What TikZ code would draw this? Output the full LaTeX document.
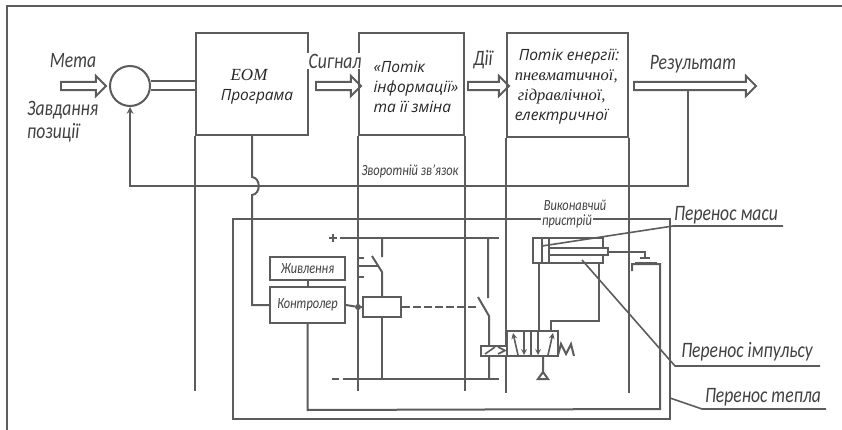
\documentclass[tikz,border=0pt]{standalone}
\usepackage{fontspec}
\setmainfont{Carlito}[FakeStretch=0.8]
\newfontfamily\blockfont{Open Sans}
\newfontfamily\oldfont{Liberation Serif}
\usetikzlibrary{shapes.arrows}
\definecolor{inkgray}{gray}{0.36}
\tikzset{every node/.style={inner sep=0pt, text=black!75},
  flowline/.style={draw=inkgray, line width=2pt},
  thinline/.style={draw=inkgray, line width=1.6pt},
  flowarrow/.style={single arrow, draw=inkgray, line width=1.9pt, inner sep=3.2pt,
    single arrow head extend=6pt, anchor=tail},
  block/.style={rectangle, draw=inkgray, line width=2pt, fill=white},
  bigtext/.style={font=\itshape\fontsize{22}{22}\selectfont},
  smalltext/.style={font=\itshape\fontsize{15.5}{16}\selectfont},
  blocktext/.style={font=\blockfont\itshape\fontsize{15.5}{20}\selectfont, text=black!85, align=left},
  cover/.style={fill=white, inner xsep=1.5pt, inner ysep=1pt}}

\begin{document}
\begin{tikzpicture}[x=1pt,y=-1pt]
  \useasboundingbox (0,0) rectangle (842,430);
  \draw[flowline] (7,430) -- (7,6) -- (842,6);

  % upper row
  \node[flowarrow, minimum height=45pt] (goalarrow) at (60,86) {};
  \node[circle, draw=inkgray, line width=2pt, minimum size=40pt] (sum) at (130,86) {};
  \node[block, minimum width=112pt, minimum height=102pt] (eom) at (252,84) {};
  \node[block, minimum width=105pt, minimum height=102pt] (info) at (411.5,84) {};
  \node[block, minimum width=121pt, minimum height=104pt] (energy) at (567.5,85) {};
  \node[flowarrow, minimum height=45pt] (signalarrow) at (315,86) {};
  \node[flowarrow, minimum height=41pt] (actionarrow) at (467,86) {};
  \node[flowarrow, minimum height=122pt] (resultarrow) at (633,86) {};
  \draw[flowline] (sum.east)++(0,-4.5) -- (196,81.5);
  \draw[flowline] (sum.east)++(0,4.5) -- (196,90.5);

  % long verticals
  \draw[flowline] (eom.south west) -- ++(0,255);
  \draw[flowline] (info.south west) -- ++(0,255);
  \draw[flowline] (info.south east) -- ++(0,255);
  \draw[flowline] (energy.south west) -- ++(0,255);
  \draw[flowline] (energy.south east) -- ++(0,255);

  % feedback
  \coordinate (tap) at (688,91);
  \coordinate (tapdown) at (688,186);
  \draw[flowline,-stealth] (tap) -- (tapdown) -- (130,186) -- (sum.south);

  % lower frame
  \draw[flowline] (233,219) rectangle (670,419);

  \node[block, minimum width=75pt, minimum height=23pt, smalltext] (power) at (307.5,268.5) {Живлення};
  \node[block, minimum width=75pt, minimum height=36pt, smalltext] (controller) at (307.5,305) {Контролер};
  \draw[flowline] (power) -- (controller);
  \coordinate (busstart) at (252,305);
  \draw[flowline] (252,135) -- (252,177) .. controls (261,178) and (261,194) .. (252,195) -- (busstart) -- (controller.west);
  \draw[flowline] (controller.south) -- ++(0,86) -- (660,409) -- (660,264) -- (632,264) -- ++(0,7);

  % relay and contacts
  \node[block, minimum width=38pt, minimum height=20pt] (relay) at (382,307) {};
  \node[circle, fill=inkgray, minimum size=6pt] (relaydot) at (358,307) {};
  \draw[flowline] (controller.east) -- (relaydot) -- (relay.west);
  \draw[flowline] (329,238) -- (337,238) (333,234) -- (333,242) (340,238) -- (499,238);
  \draw[flowline] (332,379) -- (339,379) (343,379) -- (499,379);
  \draw[flowline] (382,238) -- (382,257) (372,256) -- (382,272) -- (relay.north);
  \draw[flowline] (relay.south) -- (382,379);
  \draw[flowline] (359,258) -- (364,258) (359,277) -- (364,277);
  \draw[flowline] (359,266) -- (379,266);
  \draw[flowline, dash pattern=on 8pt off 3pt] (relay.east) -- (478,307);
  \draw[flowline] (488,238) -- (488,298) (478,297) -- (489,316) -- (489,379);

  % valve
  \node[block, minimum width=51pt, minimum height=25pt] (valve) at (532.5,343.5) {};
  \node[block, minimum width=26pt, minimum height=10pt] (coil) at (494,350.5) {};
  \draw[thinline] (485,354) -- (495,347) (498,347) -- (505,350.5) -- (498,354);
  \foreach \x in {524,538} {
    \draw[thinline,-stealth] (\x,331) -- (\x,355);
  }
  \draw[thinline] (531,331) -- (531,355);
  \draw[thinline,-stealth] (518,355) -- (513,333);
  \draw[thinline,-stealth] (548,355) -- (553,333);
  \draw[flowline] (558,355) -- (561,344) -- (566,354) -- (571,344) -- (574,356);
  \coordinate (drain) at (543,372);
  \draw[flowline] (543,355) -- (drain) -- (548,379) -- (538,379) -- (drain);

  % cylinder
  \node[block, minimum width=70pt, minimum height=25pt] (cylinder) at (568,250.5) {};
  \node[block, minimum width=59pt, minimum height=7pt] (rod) at (578.5,251.5) {};
  \draw[flowline] (542,238) -- (542,263) (549,238) -- (549,263);
  \draw[flowline] (539,263) -- (539,331);
  \draw[flowline] (599,263) -- (599,321) -- (551,321) -- (551,331);
  \draw[flowline] (rod.east) -- (645,251.5) -- (645,257);
  \draw[flowline] (640,258) -- (650,258) (635,263) -- (657,263);

  % texts
  \node[blocktext, align=center] (eomtext) at (257,87) {{\oldfont\fontsize{17}{20}\selectfont EOM}\hspace*{16pt}\\Програма};
  \node[blocktext] (infotext) at (416,87) {«Потік\\інформації»\\та її зміна};
  \node[blocktext] (energytext) at (567,87) {\hspace*{4pt}Потік енергії:\\{\oldfont\fontsize{16.5}{20}\selectfont пневматичної,}\\\hspace*{3pt}{\oldfont\fontsize{16.5}{20}\selectfont гідравлічної,}\\електричної};
  \node[bigtext] (goal) at (73,61) {Мета};
  \node[bigtext, anchor=west] (task) at (27,110) {Завдання};
  \node[bigtext, anchor=west] (position) at (27,133) {позиції};
  \node[bigtext, cover] (signal) at (335,61) {Сигнал};
  \node[bigtext] (action) at (483,60) {Дії};
  \node[bigtext] (result) at (693,64) {Результат};
  \node[smalltext, cover] (feedback) at (410,171) {Зворотній зв’язок};
  \node[smalltext] (actuator) at (575,205) {Виконавчий};
  \node[smalltext, cover] (device) at (567,221) {пристрій};

  \node[bigtext] (mass) at (726,215) {Перенос маси};
  \node[bigtext] (impulse) at (747,352) {Перенос імпульсу};
  \node[bigtext] (heat) at (763,397) {Перенос тепла};
  \coordinate (massknee) at (673,226);
  \coordinate (impulseknee) at (675,366);
  \coordinate (heatknee) at (702,409);
  \draw[thinline] (542,246) -- (massknee) -- (783,226);
  \draw[thinline] (582,260) -- (impulseknee) -- (820,366);
  \draw[thinline] (670,398) -- (heatknee) -- (826,409);
\end{tikzpicture}
\end{document}
